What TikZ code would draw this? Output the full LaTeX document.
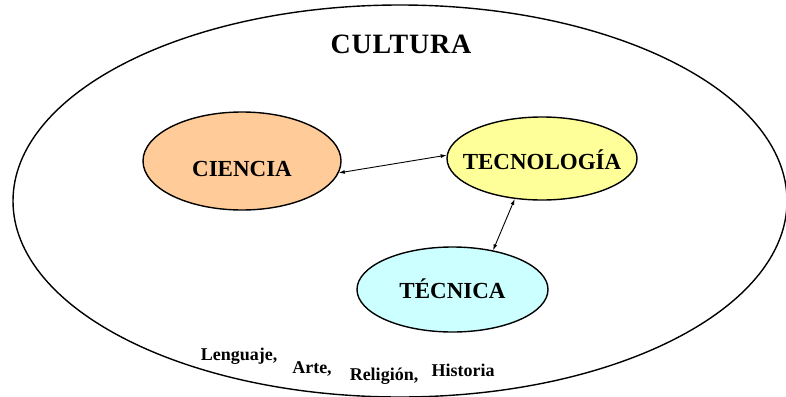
\documentclass[tikz,border=0pt]{standalone}
\usepackage{fontspec}
\setmainfont{Liberation Serif}
\usetikzlibrary{shapes.geometric,arrows.meta}
\definecolor{orangefill}{HTML}{FFCC99}
\definecolor{yellowfill}{HTML}{FFFF99}
\definecolor{cyanfill}{HTML}{CCFFFF}
\tikzset{
  area/.style={ellipse,draw,line width=1.4pt,inner sep=0pt},
  word/.style={font=\bfseries\fontsize{23}{27}\selectfont},
  small/.style={font=\bfseries\fontsize{18}{21}\selectfont,anchor=base},
  link/.style={{Latex[length=6pt,width=4pt]}-{Latex[length=6pt,width=4pt]},line width=0.9pt}
}
\begin{document}
\begin{tikzpicture}[x=1pt,y=-1pt]
      \useasboundingbox (0,0) rectangle (786,396);
      \draw[line width=1.4pt] (400,201) ellipse [x radius=387, y radius=196];
      \draw
        (401,54) node[anchor=base,font=\bfseries\fontsize{28}{32}\selectfont\addfontfeature{LetterSpace=3}] (cultura){CULTURA}
        (242,161) node[area,fill=orangefill,minimum width=198pt,minimum height=98pt,
          label={[word,yshift=-8pt]center:CIENCIA}] (ciencia){}
        (542,158.5) node[area,fill=yellowfill,minimum width=190pt,minimum height=83pt,
          label={[word,yshift=-1pt]center:TECNOLOGÍA}] (tecnologia){}
        (452.5,289.5) node[area,fill=cyanfill,minimum width=191pt,minimum height=85pt,
          label={[word,yshift=1pt]center:TÉCNICA}] (tecnica){}
        (239,360) node[small] (lenguaje){Lenguaje,}
        (312,373) node[small] (arte){Arte,}
        (384,380) node[small] (religion){Religión,}
        (463,376) node[small] (historia){Historia};
      \begin{scope}[link]
        \draw (ciencia.-7) to (tecnologia.178);
        \draw (tecnologia.-124) to (tecnica.44);
      \end{scope}
    \end{tikzpicture}
\end{document}
